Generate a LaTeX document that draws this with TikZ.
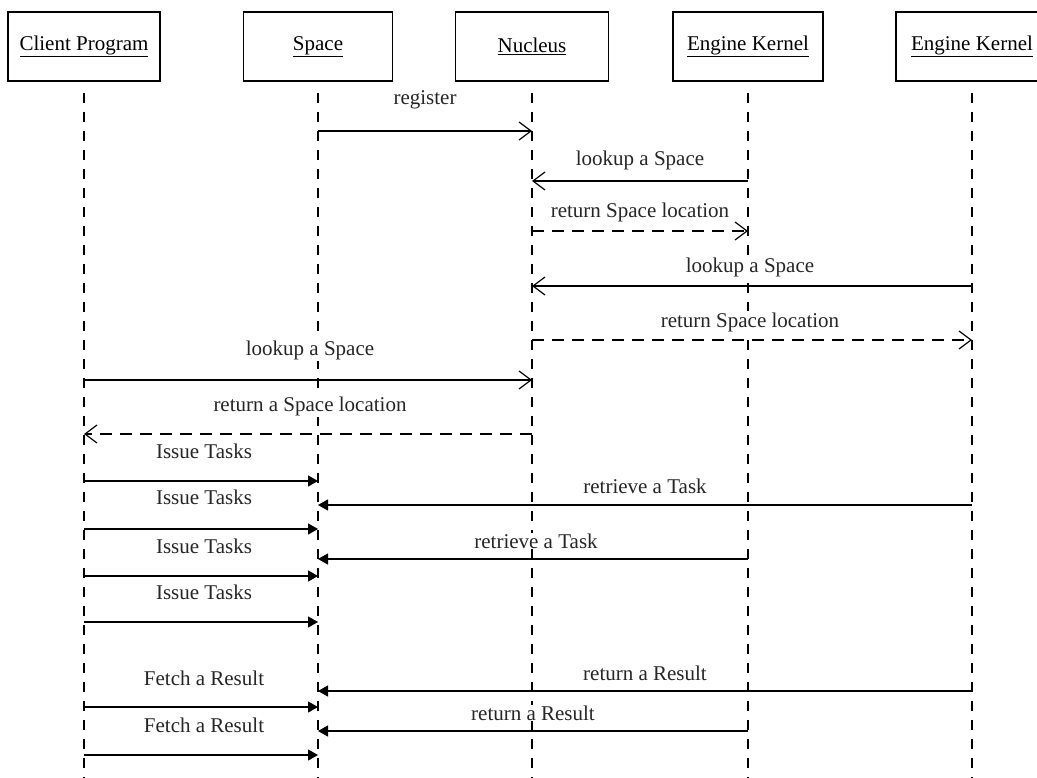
\documentclass[tikz,border=0pt]{standalone}
\usepackage{fontspec}
\setmainfont{Liberation Serif}
\usetikzlibrary{arrows.meta}
\begin{document}
\begin{tikzpicture}[x=1pt,y=-1pt,
  lbl/.style={font=\fontsize{21}{24}\selectfont, text=black!85, fill=white, inner sep=1pt},
  head/.style={draw, line width=1.4pt, minimum height=69pt, inner sep=0pt,
    font=\fontsize{21}{24}\selectfont},
  life/.style={line width=1.3pt, dash pattern=on 10pt off 9pt},
  call/.style={line width=1.2pt, -{Straight Barb[length=12pt,width=18pt,line width=1.2pt]}},
  reply/.style={call, dash pattern=on 12pt off 8pt},
  send/.style={line width=1.3pt, -{Triangle[length=10pt,width=11pt]}}]
\useasboundingbox (0,0) rectangle (1037,778);

% participant boxes
\node[head, minimum width=152pt] (cp) at (84,46.5)  {\underline{Client Program}};
\node[head, minimum width=149pt] (sp) at (318,46.5) {\underline{Space}};
\node[head, minimum width=153pt] (nu) at (532,46.5) {\underline{Nucleus}};
\node[head, minimum width=150pt] (ek) at (748,46.5) {\underline{Engine Kernel}};
\node[head, minimum width=152pt] (ex) at (972,46.5) {\underline{Engine Kernel}};

% lifelines
\foreach \p in {cp,sp,nu,ek,ex}
  \draw[life] ([yshift=-11pt]\p.south) -- (\p.south |- 0,778);

% registration and lookups
\draw[call]  (sp |- 0,131) -- (nu |- 0,131);
\node[lbl] (m1) at (425,100) {register};
\draw[call]  (ek |- 0,181) -- (nu |- 0,181);
\node[lbl] (m2) at (640,160) {lookup a Space};
\draw[reply] (nu |- 0,231) -- (ek |- 0,231);
\node[lbl] (m3) at (640,212) {return Space location};
\draw[call]  (ex |- 0,286) -- (nu |- 0,286);
\node[lbl] (m4) at (750,267) {lookup a Space};
\draw[reply] (nu |- 0,340) -- (ex |- 0,340);
\node[lbl] (m5) at (750,322) {return Space location};
\draw[call]  (cp |- 0,380) -- (nu |- 0,380);
\node[lbl] (m6) at (310,350) {lookup a Space};
\draw[reply] (nu |- 0,434) -- (cp |- 0,434);
\node[lbl] (m7) at (310,406) {return a Space location};

% task submission
\draw[send] (cp |- 0,481) -- (sp |- 0,481);
\node[lbl] (t1) at (204,451) {Issue Tasks};
\draw[send] (cp |- 0,529) -- (sp |- 0,529);
\node[lbl] (t2) at (204,497) {Issue Tasks};
\draw[send] (cp |- 0,576) -- (sp |- 0,576);
\node[lbl] (t3) at (204,546) {Issue Tasks};
\draw[send] (cp |- 0,622) -- (sp |- 0,622);
\node[lbl] (t4) at (204,592) {Issue Tasks};

% task retrieval
\draw[send] (ex |- 0,505) -- (sp |- 0,505);
\node[lbl] (r1) at (645,486) {retrieve a Task};
\draw[send] (ek |- 0,559) -- (sp |- 0,559);
\node[lbl] (r2) at (536,541) {retrieve a Task};

% results
\draw[send] (ex |- 0,691) -- (sp |- 0,691);
\node[lbl] (s1) at (645,673) {return a Result};
\draw[send] (ek |- 0,731) -- (sp |- 0,731);
\node[lbl] (s2) at (533,713) {return a Result};
\draw[send] (cp |- 0,707) -- (sp |- 0,707);
\node[lbl] (f1) at (204,678) {Fetch a Result};
\draw[send] (cp |- 0,755) -- (sp |- 0,755);
\node[lbl] (f2) at (204,725) {Fetch a Result};
\end{tikzpicture}
\end{document}
